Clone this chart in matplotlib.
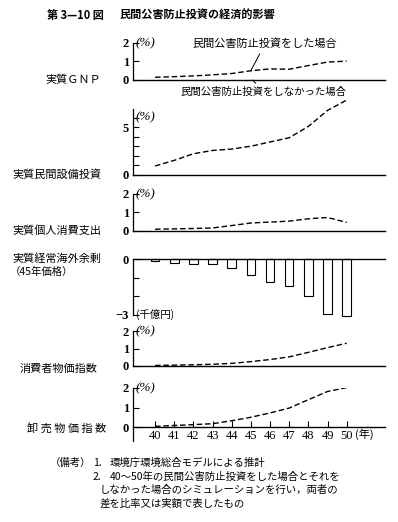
#!/usr/bin/env python3
"""第3-10図 民間公害防止投資の経済的影響 (recreation)."""
import matplotlib
matplotlib.use("Agg")
import matplotlib.pyplot as plt

plt.rcParams["font.family"] = ["Noto Sans CJK JP", "DejaVu Sans"]

# ── data ──────────────────────────────────────────────────────────────────────
years = [40, 41, 42, 43, 44, 45, 46, 47, 48, 49, 50]
year_labels = ["40", "41", "42", "43", "44", "45", "46", "47", "48", "49", "50"]
gnp = [0.15, 0.18, 0.22, 0.28, 0.35, 0.50, 0.60, 0.58, 0.78, 0.97, 1.02]
invest = [0.9, 1.5, 2.2, 2.55, 2.7, 3.0, 3.45, 3.9, 5.1, 6.8, 7.9]
consume = [0.08, 0.10, 0.12, 0.15, 0.28, 0.42, 0.47, 0.52, 0.65, 0.72, 0.45]
surplus = [-0.10, -0.20, -0.25, -0.28, -0.46, -0.83, -1.25, -1.47, -1.97, -2.98, -3.08]
cpi = [0.03, 0.05, 0.07, 0.10, 0.15, 0.25, 0.37, 0.52, 0.78, 1.05, 1.30]
wpi = [0.03, 0.08, 0.12, 0.17, 0.32, 0.50, 0.72, 0.97, 1.40, 1.82, 2.02]

W, H = 398, 522
SERIF = "Liberation Serif"
DASH = (4, 2)


def frac(x, y):
    return x / W, 1 - y / H


def make_ax(y_zero_px, y_top_px, ylim):
    # axes placed by pixel rows of the reference
    left, right = 133, 385
    top = min(y_zero_px, y_top_px)
    bot = max(y_zero_px, y_top_px)
    ax = fig.add_axes([left / W, 1 - bot / H, (right - left) / W, (bot - top) / H])
    ax.set_xlim(38.85, 52.0)
    ax.set_ylim(*ylim)
    for s in ("top", "right", "bottom"):
        ax.spines[s].set_visible(False)
    ax.spines["left"].set_linewidth(0.9)
    ax.tick_params(axis="y", direction="in", length=4, width=0.8, pad=3,
                   labelsize=9)
    ax.tick_params(axis="x", bottom=False, labelbottom=False)
    ax.axhline(0, color="black", lw=1.0, clip_on=False)
    ax.patch.set_alpha(0)
    return ax


def style_ticks(ax):
    for lbl in ax.get_yticklabels():
        lbl.set_fontfamily(SERIF)
        lbl.set_fontweight("bold")


def pct(ax, y):
    ax.text(39.0, y, "(%)", fontsize=9.5, fontfamily=SERIF, style="italic",
            va="center")


fig = plt.figure(figsize=(W / 100, H / 100), dpi=100)

# ── title ─────────────────────────────────────────────────────────────────────
fig.text(*frac(47, 15), "第 3—10 図", fontsize=8, fontweight="bold", va="center")
fig.text(*frac(120, 15), "民間公害防止投資の経済的影響", fontsize=8,
         fontweight="bold", va="center")

# ── 実質GNP ───────────────────────────────────────────────────────────────────
ax1 = make_ax(80, 43, (0, 2))
ax1.plot(years, gnp, color="black", lw=1.0, dashes=DASH)
ax1.set_yticks([0, 1, 2])
ax1.set_yticklabels(["0", "1", "2"])
style_ticks(ax1)
pct(ax1, 2)
ax1.annotate("民間公害防止投資をした場合", xy=(45.0, 0.50), xytext=(45.75, 1.98),
             fontsize=8, ha="center", va="center",
             arrowprops=dict(arrowstyle="-", lw=0.7, color="black", shrinkA=2, shrinkB=0))
ax1.annotate("民間公害防止投資をしなかった場合", xy=(45.1, 0.0), xytext=(45.65, -0.66),
             fontsize=7.5, ha="center", va="center", annotation_clip=False,
             arrowprops=dict(arrowstyle="-", lw=0.7, color="black", shrinkA=1, shrinkB=0))

# ── 実質民間設備投資 ──────────────────────────────────────────────────────────
ax2 = make_ax(174.5, 109, (0, 6.95))
ax2.plot(years, invest, color="black", lw=1.0, dashes=DASH, clip_on=False)
ax2.set_yticks([0, 1, 2, 3, 4, 5, 6])
ax2.set_yticklabels(["0", "", "", "", "", "5", ""])
style_ticks(ax2)
pct(ax2, 6.1)

# ── 実質個人消費支出 ──────────────────────────────────────────────────────────
ax3 = make_ax(230.7, 194, (0, 2))
ax3.plot(years, consume, color="black", lw=1.0, dashes=DASH)
ax3.set_yticks([0, 1, 2])
ax3.set_yticklabels(["0", "1", "2"])
style_ticks(ax3)
pct(ax3, 2)

# ── 実質経常海外余剰 ──────────────────────────────────────────────────────────
ax4 = make_ax(259.3, 314.5, (-3, 0))
ax4.bar(years, surplus, width=0.45, color="white", edgecolor="black", lw=0.8,
        clip_on=False)
ax4.set_yticks([0, -1, -2, -3])
ax4.set_yticklabels(["0", "", "", "−3"])
style_ticks(ax4)
ax4.text(39.0, -3, "(千億円)", fontsize=7.5, va="center")

# ── 消費者物価指数 ────────────────────────────────────────────────────────────
ax5 = make_ax(366, 331, (0, 2))
ax5.plot(years, cpi, color="black", lw=1.0, dashes=DASH)
ax5.set_yticks([0, 1, 2])
ax5.set_yticklabels(["0", "1", "2"])
style_ticks(ax5)
pct(ax5, 2)

# ── 卸売物価指数 ──────────────────────────────────────────────────────────────
ax6 = make_ax(427, 388, (0, 2))
ax6.plot(years, wpi, color="black", lw=1.0, dashes=DASH)
ax6.set_yticks([0, 1, 2])
ax6.set_yticklabels(["0", "1", "2"])
style_ticks(ax6)
pct(ax6, 2)
ax6.set_xticks(years)
ax6.set_xticklabels(year_labels)
ax6.tick_params(axis="x", bottom=True, labelbottom=True, direction="in",
                length=4, width=0.8, pad=2, labelsize=9)
for lbl in ax6.get_xticklabels():
    lbl.set_fontfamily(SERIF)
ax6.plot([0, 0], [0, -0.35], transform=ax6.transAxes, color="black", lw=0.9,
         clip_on=False)
ax6.text(50.45, -0.1, "(年)", fontsize=8, va="top", ha="left")

# ── row labels ────────────────────────────────────────────────────────────────
fig.text(*frac(45, 80), "実質ＧＮＰ", fontsize=8, va="center")
fig.text(*frac(12, 175), "実質民間設備投資", fontsize=8, va="center")
fig.text(*frac(12, 231), "実質個人消費支出", fontsize=8, va="center")
fig.text(*frac(12, 259), "実質経常海外余剰", fontsize=8, va="center")
fig.text(*frac(42, 272), "（45年価格）", fontsize=7.5, va="center", ha="center")
fig.text(*frac(20, 369), "消費者物価指数", fontsize=8, va="center")
fig.text(*frac(27, 428), "卸 売 物 価 指 数", fontsize=8, va="center")

# ── notes ─────────────────────────────────────────────────────────────────────
fig.text(*frac(50, 463), "（備考）", fontsize=7.5, va="center")
fig.text(*frac(93, 463), "1.", fontsize=7.5, va="center")
fig.text(*frac(110, 463), "環境庁環境総合モデルによる推計", fontsize=7.5, va="center")
fig.text(*frac(93, 477), "2.", fontsize=7.5, va="center")
fig.text(*frac(110, 477), "40〜50年の民間公害防止投資をした場合とそれを",
         fontsize=7.5, va="center")
fig.text(*frac(100, 490), "しなかった場合のシミュレーションを行い，両者の",
         fontsize=7.5, va="center")
fig.text(*frac(100, 504), "差を比率又は実額で表したもの", fontsize=7.5, va="center")

fig.savefig("out.png", dpi=100)
print("Saved out.png")
